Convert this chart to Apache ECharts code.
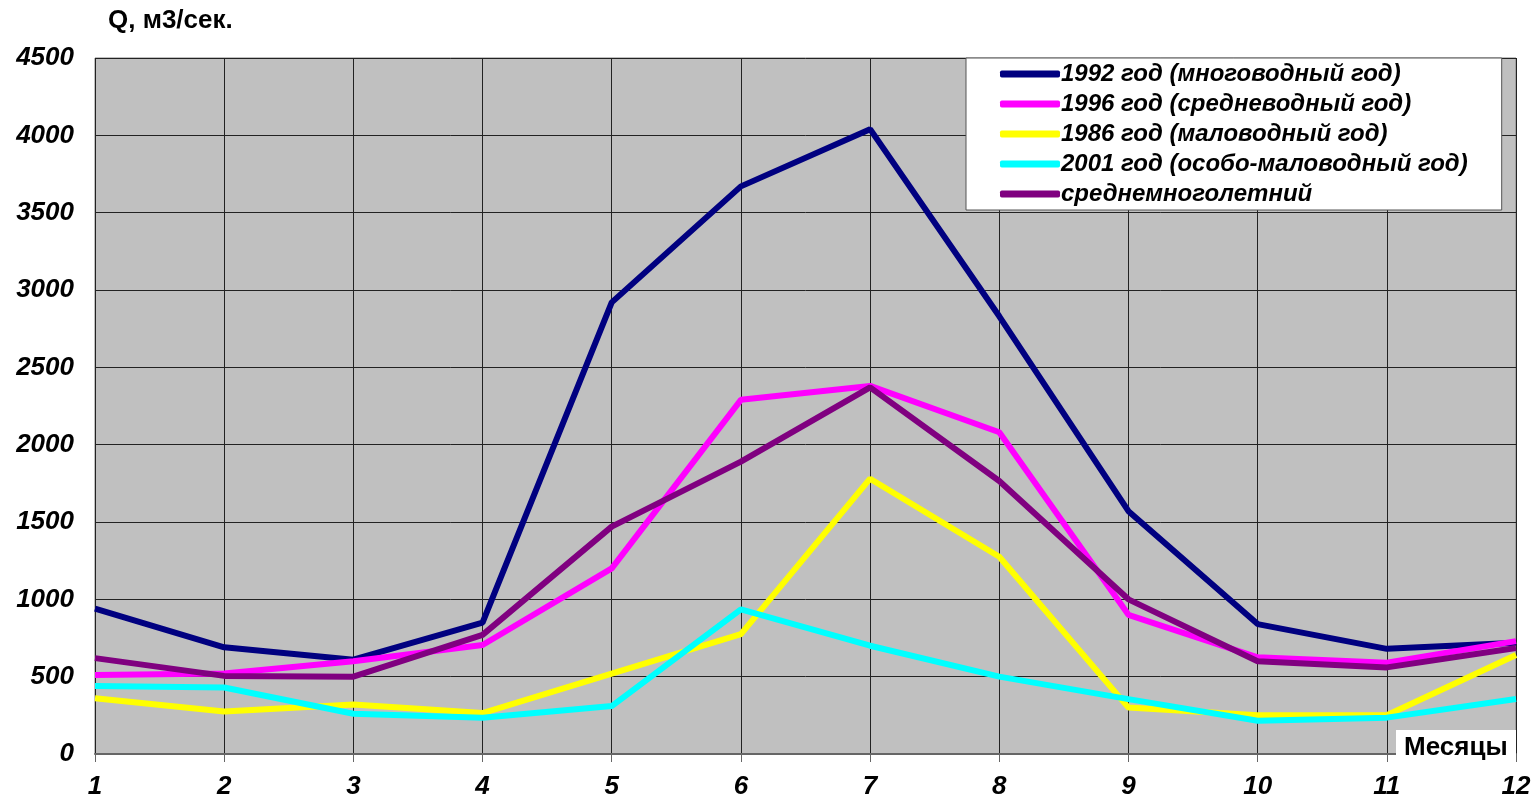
<!DOCTYPE html>
<html><head><meta charset="utf-8">
<script src="https://cdn.jsdelivr.net/npm/echarts@6/dist/echarts.min.js"></script>
<style>html,body{margin:0;padding:0;background:#fff}#c{width:1536px;height:800px}</style>
</head><body><div id="c"></div>
<script>
const months = ['1','2','3','4','5','6','7','8','9','10','11','12'];
const names = ['1992 год (многоводный год)','1996 год (средневодный год)','1986 год (маловодный год)','2001 год (особо-маловодный год)','среднемноголетний'];
const colors = ['#000080','#ff00ff','#ffff00','#00ffff','#800080'];
const q1992 = [940,690,610,850,2920,3670,4040,2830,1570,840,680,720];
const q1996 = [510,520,600,705,1200,2290,2380,2080,900,625,590,730];
const q1986 = [360,275,320,265,520,775,1780,1275,300,250,250,640];
const q2001 = [440,430,260,235,310,935,700,500,355,215,235,355];
const qAvg  = [620,505,500,770,1470,1890,2370,1765,1000,600,560,685];
const yTicks = [0,500,1000,1500,2000,2500,3000,3500,4000,4500];
const allData = [q1992,q1996,q1986,q2001,qAvg];

const chart = echarts.init(document.getElementById('c'));
const font = 'Liberation Sans, Arial, sans-serif';
chart.setOption({
  animation:false,
  textStyle:{fontFamily:font},
  grid:{left:95,right:20,top:58,bottom:44,show:true,backgroundColor:'#c0c0c0',borderColor:'#808080',borderWidth:1},
  legend:{
    orient:'vertical',left:966,top:58,
    backgroundColor:'#ffffff',borderColor:'#555',borderWidth:1,
    padding:[4,34,4,34],itemGap:6,itemWidth:60,itemHeight:7,icon:'roundRect',
    textStyle:{fontSize:24,fontWeight:'bold',fontStyle:'italic',color:'#000',lineHeight:24,padding:[0,0,0,-4]},
    data:names
  },
  xAxis:{
    type:'category',data:months,boundaryGap:false,
    axisLine:{lineStyle:{color:'#666',width:2}},
    axisTick:{show:true,length:8,lineStyle:{color:'#666'}},
    axisLabel:{fontSize:26,fontWeight:'bold',fontStyle:'italic',color:'#000',margin:20},
    splitLine:{show:true,lineStyle:{color:'#222',width:1}}
  },
  yAxis:{
    type:'value',min:0,max:4500,interval:500,
    axisLine:{show:false},axisTick:{show:false},
    axisLabel:{fontSize:26,fontWeight:'bold',fontStyle:'italic',color:'#000',margin:21,
      formatter:v=>yTicks.includes(v)?String(v):''},
    splitLine:{show:true,lineStyle:{color:'#222',width:1}}
  },
  graphic:[
    {type:'text',left:108,top:8,style:{text:'Q, м3/сек.',font:'bold 26px '+font,fill:'#000'}},
    {type:'rect',shape:{x:1396,y:730,width:120,height:32},style:{fill:'#fff'},z:10},
    {type:'text',left:1404,top:735,z:11,style:{text:'Месяцы',font:'bold 26px '+font,fill:'#000'}}
  ],
  series:allData.map((d,i)=>({
    name:names[i],type:'line',data:d,showSymbol:false,symbol:'none',
    lineStyle:{color:colors[i],width:6},itemStyle:{color:colors[i]},z:2+i
  }))
});
</script></body></html>
